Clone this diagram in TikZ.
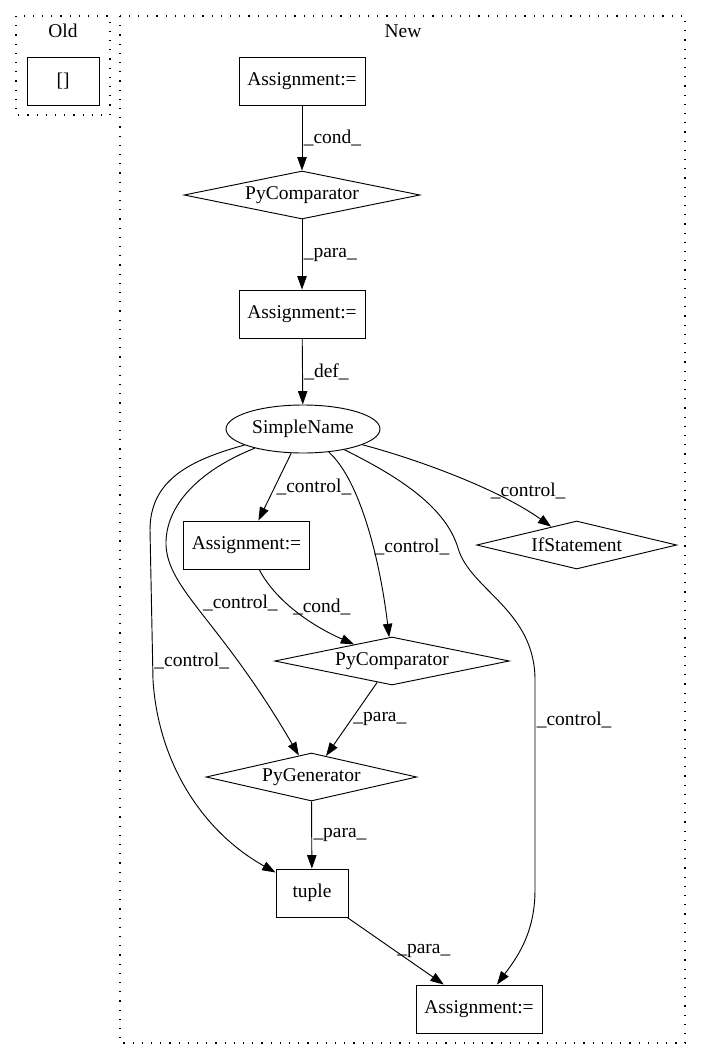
\documentclass[tikz,border=0pt]{standalone}
\usepackage{fontspec}
\setmainfont{Liberation Serif}
\usetikzlibrary{shapes.geometric,arrows.meta}

\begin{document}
\begin{tikzpicture}[x=0.75pt,y=-0.75pt,line width=0.7pt,
	font=\fontsize{14.6}{17}\selectfont,
	box/.style={draw,minimum width=94.5pt,minimum height=36pt,inner sep=2pt},
	diam/.style={draw,diamond,aspect=4,inner sep=0pt,minimum height=36pt},
	ell/.style={draw,ellipse,minimum width=115.5pt,minimum height=36pt,inner sep=0pt},
	ed/.style={-{Triangle[length=10pt,width=7pt]}},
	lbl/.style={anchor=west,inner sep=1pt},
	clus/.style={draw,line width=0.9pt,dash pattern=on 0.9pt off 6pt}]
	\useasboundingbox (0,0) rectangle (701,1060);
	\draw[clus] (16,16) rectangle (110,115);
	\draw[clus] (120,16) rectangle (685,1043);
	\node (old) at (63,31) {Old};
	\node (new) at (403,31) {New};

	\node[box,minimum width=54pt] (lst) at (63,81) {[]};
	\node[box] (asg1) at (302,81) {Assignment:=};
	\node[diam,minimum width=177pt] (cmp1) at (302,195) {PyComparator};
	\node[box] (asg2) at (302,314) {Assignment:=};
	\node[ell] (sn) at (303,429) {SimpleName};
	\node[box] (asg3) at (246.5,545) {Assignment:=};
	\node[diam,minimum width=150pt] (ifs) at (576.7,545) {IfStatement};
	\node[diam,minimum width=176pt] (cmp2) at (392,661) {PyComparator};
	\node[diam,minimum width=158pt] (gen) at (311.4,777) {PyGenerator};
	\node[box,minimum width=54pt] (tup) at (312,893) {tuple};
	\node[box] (asg4) at (479,1009) {Assignment:=};

	\draw[ed] (asg1) -- node[lbl]{\_cond\_} (cmp1);
	\draw[ed] (cmp1) -- node[lbl]{\_para\_} (asg2);
	\draw[ed] (asg2) -- node[lbl]{\_def\_} (sn);
	\draw[ed] (sn) -- node[lbl]{\_control\_} (asg3);
	\draw[ed] (sn) .. controls (420,460) and (500,490) .. node[lbl,pos=.65]{\_control\_} (ifs);
	\draw[ed] (sn) .. controls (360,480) and (380,560) .. node[lbl,pos=.6]{\_control\_} (cmp2);
	\draw[ed] (sn) .. controls (200,470) and (165,505) .. (166,545)
		.. controls (168,590) and (220,620) .. node[lbl,pos=.42,xshift=6pt]{\_control\_} (gen);
	\draw[ed] (sn) .. controls (190,460) and (150,480) .. (150,530)
		-- node[lbl,pos=.87]{\_control\_} (153,680)
		.. controls (158,760) and (200,830) .. (tup);
	\draw[ed] (sn) .. controls (395,475) and (445,505) .. (458,548)
		.. controls (470,590) and (535,610) .. (535,680)
		-- node[lbl,pos=.19]{\_control\_} (535,890)
		.. controls (535,935) and (515,960) .. (asg4);
	\draw[ed] (asg3) .. controls (275,600) and (310,625) .. node[lbl,pos=.45]{\_cond\_} (cmp2);
	\draw[ed] (cmp2) -- node[lbl]{\_para\_} (gen);
	\draw[ed] (gen) -- node[lbl]{\_para\_} (tup);
	\draw[ed] (tup) -- node[lbl]{\_para\_} (asg4);
\end{tikzpicture}
\end{document}
